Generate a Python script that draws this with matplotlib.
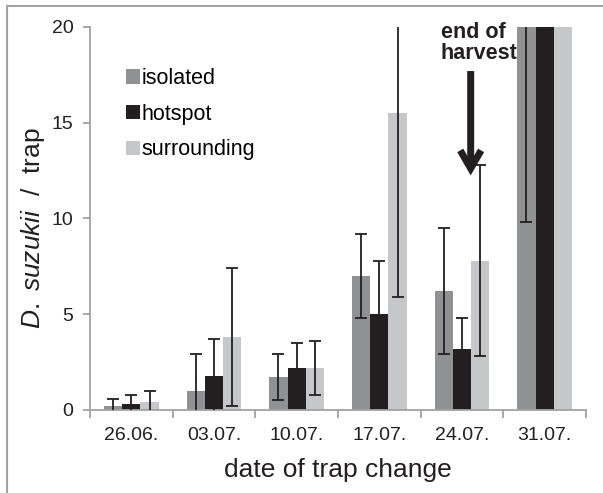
import matplotlib
matplotlib.use("Agg")
import matplotlib.pyplot as plt
from matplotlib.lines import Line2D
import numpy as np

plt.rcParams['font.family'] = ['Liberation Sans', 'DejaVu Sans']
plt.rcParams['mathtext.fontset'] = 'custom'
plt.rcParams['mathtext.rm'] = 'Liberation Sans'
plt.rcParams['mathtext.it'] = 'Liberation Sans:italic'

# data (bars above 20 are cut by the axis)
dates = ['26.06.', '03.07.', '10.07.', '17.07.', '24.07.', '31.07.']
series = ['isolated', 'hotspot', 'surrounding']
isolated = [0.2, 1.0, 1.7, 7.0, 6.2, 25.0]
isolated_err = [0.4, 1.9, 1.2, 2.2, 3.3, 15.2]
hotspot = [0.3, 1.8, 2.2, 5.0, 3.2, 30.0]
hotspot_err = [0.5, 1.9, 1.3, 2.8, 1.6, 6.0]
surrounding = [0.4, 3.8, 2.2, 15.5, 7.8, 28.0]
surrounding_err = [0.6, 3.6, 1.4, 9.6, 5.0, 5.0]

colors = ['#909193', '#231f20', '#c6c7c9']
axis_grey = '#a3a3a3'
ink = '#231f20'

fig = plt.figure(figsize=(6.03, 4.93), dpi=100)
ax = fig.add_axes([90 / 603, 1 - 410 / 493, 496 / 603, 383 / 493])

x = np.arange(len(dates))
width = 0.22
values = [isolated, hotspot, surrounding]
errors = [isolated_err, hotspot_err, surrounding_err]
for i, (name, vals, errs) in enumerate(zip(series, values, errors)):
    pos = x + (i - 1) * width
    ax.bar(pos, vals, width=width, color=colors[i], label=name, zorder=2)
    ax.errorbar(pos, vals, yerr=errs, fmt='none', ecolor=ink,
                elinewidth=1.3, capsize=4, capthick=1.3, zorder=3)

ax.set_xlim(-0.5, len(dates) - 0.5)
ax.set_ylim(0, 20)
ax.set_yticks([0, 5, 10, 15, 20])
ax.set_xticks(x)
ax.set_xticklabels(dates)
ax.set_xticks(np.arange(-0.5, len(dates)), minor=True)

for side in ['top', 'right']:
    ax.spines[side].set_visible(False)
for side in ['left', 'bottom']:
    ax.spines[side].set_color(axis_grey)
    ax.spines[side].set_linewidth(1.3)

ax.tick_params(axis='y', length=5, width=1.3, color=axis_grey, pad=7,
               labelsize=14, labelcolor=ink)
ax.tick_params(axis='x', which='major', length=0, pad=12,
               labelsize=14, labelcolor=ink)
ax.tick_params(axis='x', which='minor', length=6, width=1.3, color=axis_grey)

ax.set_xlabel('date of trap change', fontsize=19, color=ink, labelpad=10)
ax.set_ylabel(r'$\mathit{D.\ suzukii}$  /  trap', fontsize=19, color=ink)
ax.yaxis.set_label_coords(-0.087, 0.474)

ax.legend(loc='upper left', bbox_to_anchor=(0.072, 0.893), frameon=False,
          fontsize=15.5, handlelength=0.65, handleheight=0.65,
          handletextpad=0.08, labelspacing=0.68, borderpad=0, borderaxespad=0)

ax.text(3.745, 20.25, 'end of\nharvest', fontsize=15.5, fontweight='bold',
        color=ink, ha='left', va='top', linespacing=1.0,
        clip_on=False, zorder=5)
ax.annotate('', xy=(4.105, 12.25), xytext=(4.105, 17.7),
            arrowprops=dict(arrowstyle='->,head_length=1.3,head_width=0.75',
                            lw=5, color=ink, shrinkA=0, shrinkB=0,
                            joinstyle='miter', capstyle='butt'),
            zorder=5)

# outer frame of the original figure (only top and left show)
fig.add_artist(Line2D([7 / 603, 1], [1 - 6 / 493] * 2, color=axis_grey, lw=1.5))
fig.add_artist(Line2D([7 / 603] * 2, [0, 1 - 6 / 493], color=axis_grey, lw=1.5))

fig.savefig('out.png', dpi=100)
